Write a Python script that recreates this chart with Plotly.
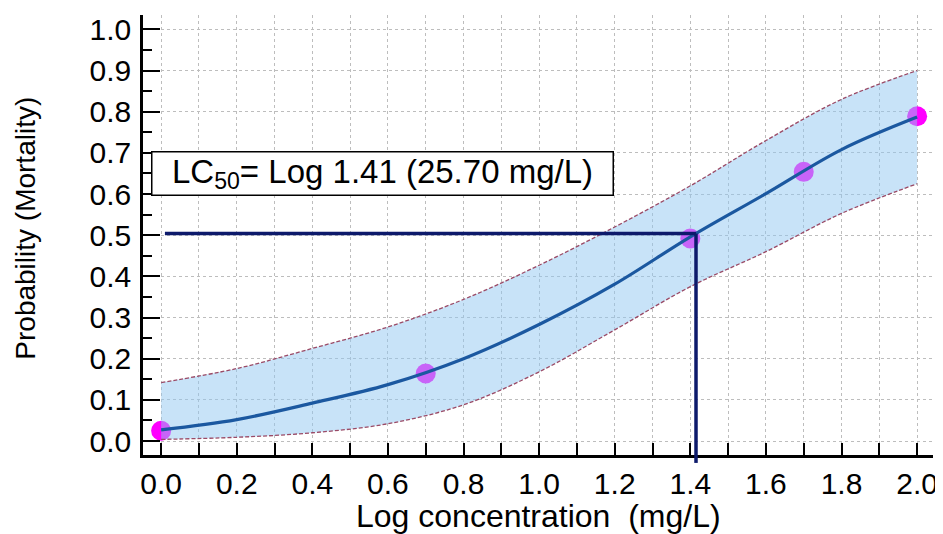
import plotly.graph_objects as go

# Observed data points (log concentration vs mortality probability)
obs_x = [0.0, 0.7, 1.4, 1.7, 2.0]
obs_y = [0.025, 0.164, 0.492, 0.654, 0.789]

# Fitted probit curve and confidence band
fit_x = [0.0, 0.2, 0.4, 0.6, 0.8, 1.0, 1.2, 1.4, 1.6, 1.8, 2.0]
fit_y = [0.027, 0.052, 0.092, 0.137, 0.200, 0.283, 0.381, 0.496, 0.601, 0.708, 0.787]
upper_y = [0.142, 0.176, 0.225, 0.277, 0.344, 0.427, 0.520, 0.620, 0.730, 0.830, 0.900]
lower_y = [0.004, 0.009, 0.020, 0.042, 0.088, 0.168, 0.270, 0.375, 0.460, 0.553, 0.625]

# LC50 reference
lc50_x = 1.415
lc50_y = 0.504
lc50_text = "LC<sub>50</sub>= Log 1.41 (25.70 mg/L)"

x_title = "Log concentration  (mg/L)"
y_title = "Probability (Mortality)"

XR = [-0.048, 2.042]
YR = [-0.034, 1.035]

FONT = "Liberation Sans, Arial, sans-serif"

fig = go.Figure()

fig.add_trace(go.Scatter(x=obs_x, y=obs_y, mode="markers",
                         marker=dict(color="#ff00ff", size=20, line=dict(width=0)),
                         hoverinfo="skip"))
fig.add_trace(go.Scatter(x=fit_x, y=lower_y, mode="lines",
                         line=dict(width=0, shape="spline"), hoverinfo="skip"))
fig.add_trace(go.Scatter(x=fit_x, y=upper_y, mode="lines", fill="tonexty",
                         fillcolor="rgba(145,200,241,0.5)",
                         line=dict(width=0, shape="spline"), hoverinfo="skip"))
for yy in (lower_y, upper_y):
    fig.add_trace(go.Scatter(x=fit_x, y=yy, mode="lines",
                             line=dict(color="#9a4a66", width=1.3, dash="4px,2px", shape="spline"),
                             hoverinfo="skip"))
fig.add_trace(go.Scatter(x=fit_x, y=fit_y, mode="lines",
                         line=dict(color="#1b58a0", width=3.2, shape="spline")))

# LC50 guide lines
span = YR[1] - YR[0]
fig.add_shape(type="line", xref="x", yref="y", x0=0.01, x1=lc50_x, y0=lc50_y, y1=lc50_y,
              line=dict(color="#0d1a6b", width=3.5))
fig.add_shape(type="line", xref="x", yref="paper", x0=lc50_x, x1=lc50_x,
              y0=-0.018, y1=(lc50_y - YR[0]) / span,
              line=dict(color="#0d1a6b", width=3.5))

fig.add_annotation(x=-0.027, y=0.651, xref="x", yref="y", xanchor="left", yanchor="middle",
                   text=lc50_text, showarrow=False, align="center",
                   width=456, height=38, borderpad=2,
                   bordercolor="black", borderwidth=1.5, bgcolor="white",
                   font=dict(family=FONT, size=33, color="black"))

# Axis titles
fig.add_annotation(x=0.5, y=-0.138, xref="paper", yref="paper", xanchor="center", yanchor="middle",
                   text=x_title, showarrow=False,
                   font=dict(family=FONT, size=32, color="black"))
fig.add_annotation(x=-0.149, y=0.515, xref="paper", yref="paper", xanchor="center", yanchor="middle",
                   text=y_title, showarrow=False, textangle=-90,
                   font=dict(family=FONT, size=28, color="black"))

grid = dict(gridcolor="#bdbdbd", gridwidth=1, griddash="dot")

fig.update_xaxes(range=XR, dtick=0.2, tick0=0, tickformat=".1f",
                 showline=True, linecolor="black", linewidth=2.5,
                 ticks="inside", ticklen=12, tickwidth=2, tickcolor="black",
                 minor=dict(dtick=0.1, tick0=0, ticks="inside", ticklen=12, tickwidth=2,
                            tickcolor="black", showgrid=True, gridcolor="#bdbdbd",
                            gridwidth=1, griddash="dot"),
                 zeroline=False, ticklabelstandoff=0, automargin=False,
                 tickfont=dict(family=FONT, size=30, color="black"),
                 **grid)
fig.update_yaxes(range=YR, dtick=0.1, tick0=0, tickformat=".1f",
                 showline=True, linecolor="black", linewidth=2.5,
                 ticks="inside", ticklen=17, tickwidth=2, tickcolor="black",
                 minor=dict(dtick=0.05, tick0=0, ticks="inside", ticklen=9, tickwidth=1.5,
                            tickcolor="black", showgrid=False),
                 zeroline=False, ticklabelstandoff=3, automargin=False,
                 tickfont=dict(family=FONT, size=30, color="black"),
                 **grid)

# The page body adds an 8px offset; size the figure so the plot area lands where it should
fig.update_layout(width=935, height=526, showlegend=False,
                  margin=dict(l=135, r=10, t=7, b=79),
                  plot_bgcolor="white", paper_bgcolor="white",
                  font=dict(family=FONT))

fig.write_html("out.html")
